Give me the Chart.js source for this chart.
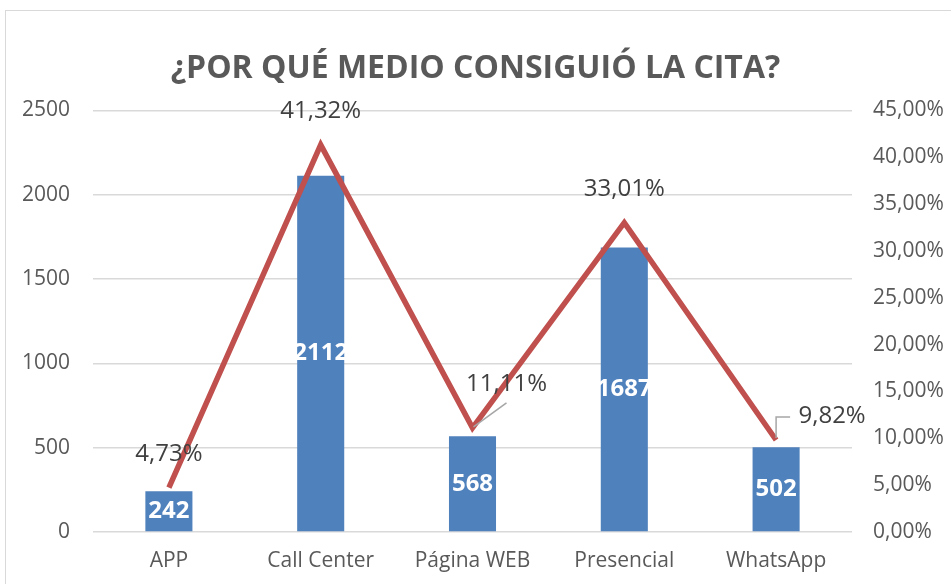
<!DOCTYPE html>
<html>
<head>
<meta charset="utf-8">
<script src="https://cdn.jsdelivr.net/npm/chart.js@4/dist/chart.umd.min.js"></script>
<style>
  html, body { margin: 0; padding: 0; background: #fff; }
  canvas { display: block; }
</style>
</head>
<body>
<canvas id="chart" width="951" height="584"></canvas>
<script>
const categories = ['APP', 'Call Center', 'Página WEB', 'Presencial', 'WhatsApp'];
const counts = [242, 2112, 568, 1687, 502];
const percents = [4.73, 41.32, 11.11, 33.01, 9.82];
const leftTicks = [0, 500, 1000, 1500, 2000, 2500];

const FONT = '"Open Sans", "Noto Sans", sans-serif';
const barColor = '#4F81BD';
const lineColor = '#C0504D';
const textColor = '#595959';
const gridColor = '#d9d9d9';

function pct(v) {
  return v.toFixed(2).replace('.', ',') + '%';
}

// label placement for the line, relative to each point
const pctLabelPos = [
  { dx: 0, dy: -34 },
  { dx: 0, dy: -34 },
  { dx: 34, dy: -44, leader: 'diag' },
  { dx: 0, dy: -34 },
  { dx: 56, dy: -24, leader: 'elbow' }
];

const frame = {
  id: 'frame',
  beforeDraw(chart) {
    const c = chart.ctx;
    c.save();
    c.fillStyle = '#fff';
    c.fillRect(0, 0, chart.width, chart.height);
    c.strokeStyle = gridColor;
    c.lineWidth = 1;
    c.strokeRect(5.5, 10.5, 1200, 1200);
    c.restore();
  }
};

const labels = {
  id: 'labels',
  afterDatasetsDraw(chart) {
    const c = chart.ctx;
    c.save();
    c.textAlign = 'center';
    c.textBaseline = 'middle';

    const bars = chart.getDatasetMeta(1).data;
    c.fillStyle = '#fff';
    c.font = 'bold 24px ' + FONT;
    bars.forEach((b, i) => {
      const y = (b.y + b.base) / 2;
      c.fillText(String(counts[i]), b.x, y);
    });

    const pts = chart.getDatasetMeta(0).data;
    c.font = '24px ' + FONT;
    pts.forEach((p, i) => {
      const pos = pctLabelPos[i];
      const lx = p.x + pos.dx;
      const ly = p.y + pos.dy;
      if (pos.leader) {
        c.strokeStyle = '#a6a6a6';
        c.lineWidth = 1.5;
        c.beginPath();
        if (pos.leader === 'diag') {
          c.moveTo(p.x + 1, p.y - 1);
          c.lineTo(p.x + 34, p.y - 25);
        } else {
          c.moveTo(p.x, p.y - 2);
          c.lineTo(p.x, p.y - 23);
          c.lineTo(p.x + 14, p.y - 23);
        }
        c.stroke();
      }
      c.fillStyle = '#404040';
      c.fillText(pct(percents[i]), lx, ly);
    });
    c.restore();
  }
};

new Chart(document.getElementById('chart'), {
  data: {
    labels: categories,
    datasets: [
      {
        type: 'line',
        data: percents,
        borderColor: lineColor,
        borderWidth: 5.5,
        pointRadius: 0,
        tension: 0,
        yAxisID: 'yPct',
        order: 0
      },
      {
        type: 'bar',
        data: counts,
        backgroundColor: barColor,
        categoryPercentage: 1,
        barPercentage: 0.31,
        yAxisID: 'y',
        order: 1
      }
    ]
  },
  options: {
    responsive: false,
    animation: false,
    layout: { padding: { left: 0, right: 0, top: 0, bottom: 0 } },
    plugins: {
      legend: { display: false },
      tooltip: { enabled: false },
      title: {
        display: true,
        text: '¿POR QUÉ MEDIO CONSIGUIÓ LA CITA?',
        color: textColor,
        font: { family: FONT, size: 32, weight: 'bold', lineHeight: 1.2 },
        padding: { top: 50, bottom: 22 }
      }
    },
    scales: {
      x: {
        grid: { display: false, drawTicks: false },
        border: { display: false },
        ticks: { color: textColor, font: { family: FONT, size: 21 }, padding: 16 },
        afterFit(s) { s.height = 52; }
      },
      y: {
        position: 'left',
        min: 0,
        max: 2500,
        afterBuildTicks(s) { s.ticks = leftTicks.map(v => ({ value: v })); },
        grid: { color: gridColor, lineWidth: 1.5, drawTicks: false },
        border: { display: false },
        ticks: { color: textColor, font: { family: FONT, size: 21 }, padding: 23, callback: v => String(v) },
        afterFit(s) { s.width = 93; }
      },
      yPct: {
        position: 'right',
        min: 0,
        max: 45,
        ticks: {
          stepSize: 5,
          color: textColor,
          font: { family: FONT, size: 21 },
          padding: 21,
          callback: v => pct(v)
        },
        grid: { display: false, drawTicks: false },
        border: { display: false },
        afterFit(s) { s.width = 99; }
      }
    }
  },
  plugins: [frame, labels]
});
</script>
</body>
</html>
